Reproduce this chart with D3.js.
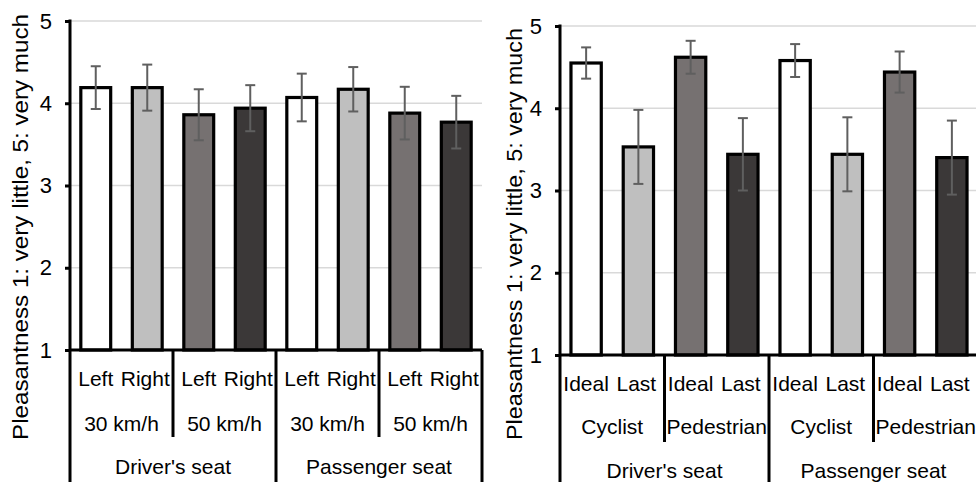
<!DOCTYPE html>
<html>
<head>
<meta charset="utf-8">
<script src="https://cdn.jsdelivr.net/npm/d3@7"></script>
<style>
  body { margin: 0; background: #fff; }
  text { font-family: "Liberation Sans", Arial, sans-serif; fill: #000; }
</style>
</head>
<body>
<div id="chart"></div>
<script>
// data
var leftCats = ["Left", "Right", "Left", "Right", "Left", "Right", "Left", "Right"];
var leftMid = ["30 km/h", "50 km/h", "30 km/h", "50 km/h"];
var leftMeans = [4.19, 4.19, 3.86, 3.94, 4.07, 4.17, 3.88, 3.77];
var leftErr = [0.26, 0.28, 0.31, 0.28, 0.29, 0.27, 0.32, 0.32];

var rightCats = ["Ideal", "Last", "Ideal", "Last", "Ideal", "Last", "Ideal", "Last"];
var rightMid = ["Cyclist", "Pedestrian", "Cyclist", "Pedestrian"];
var rightMeans = [4.55, 3.53, 4.62, 3.44, 4.58, 3.44, 4.44, 3.40];
var rightErr = [0.19, 0.45, 0.20, 0.44, 0.20, 0.45, 0.25, 0.45];

var seats = ["Driver's seat", "Passenger seat"];
var yTicks = [1, 2, 3, 4, 5];
var yLabel = "Pleasantness 1: very little, 5: very much";
var fills = ["#ffffff", "#bfbfbf", "#767171", "#3b3838"];

var W = 976, H = 482;

var svg = d3
  .select("#chart")
  .append("svg")
  .attr("width", W)
  .attr("height", H);

// one panel = one excel chart
function drawPanel(p) {
  var g = svg.append("g");

  var x = d3
    .scaleBand()
    .domain(d3.range(p.cats.length))
    .range([p.x0, p.x1])
    .paddingInner(0.42)
    .paddingOuter(0.21);

  var y = d3.scaleLinear().domain([1, 5]).range([p.yBot, p.yTop]);
  var step = x.step();

  // gridlines
  g.selectAll(".grid")
    .data(yTicks.slice(1))
    .join("line")
    .attr("x1", p.x0)
    .attr("x2", p.x1)
    .attr("y1", (d) => y(d))
    .attr("y2", (d) => y(d))
    .attr("stroke", "#d9d9d9")
    .attr("stroke-width", 1.5);

  // bars
  g.selectAll(".bar")
    .data(p.means)
    .join("rect")
    .attr("x", (d, i) => x(i))
    .attr("y", (d) => y(d))
    .attr("width", x.bandwidth())
    .attr("height", (d) => y(1) - y(d))
    .attr("fill", (d, i) => fills[i % 4])
    .attr("stroke", "#000")
    .attr("stroke-width", 3.2);

  // error bars
  var eb = g.selectAll(".err")
    .data(p.means)
    .join("g")
    .attr("stroke", "#5f5f5f")
    .attr("stroke-width", 2);
  eb.append("line")
    .attr("x1", (d, i) => x(i) + x.bandwidth() / 2)
    .attr("x2", (d, i) => x(i) + x.bandwidth() / 2)
    .attr("y1", (d, i) => y(d + p.err[i]))
    .attr("y2", (d, i) => y(d - p.err[i]));
  [1, -1].forEach(function (s) {
    eb.append("line")
      .attr("x1", (d, i) => x(i) + x.bandwidth() / 2 - 5)
      .attr("x2", (d, i) => x(i) + x.bandwidth() / 2 + 5)
      .attr("y1", (d, i) => y(d + s * p.err[i]))
      .attr("y2", (d, i) => y(d + s * p.err[i]));
  });

  // y axis
  var yAxis = d3
    .axisLeft(y)
    .tickValues(yTicks)
    .tickFormat(d3.format("d"))
    .tickSize(5)
    .tickSizeOuter(0)
    .tickPadding(13);
  var ya = g.append("g").attr("transform", `translate(${p.x0},0)`).call(yAxis);
  ya.select(".domain").remove();
  ya.selectAll(".tick line").attr("stroke", "#000").attr("stroke-width", 3);
  ya.selectAll(".tick text")
    .attr("font-size", 22)
    .attr("fill", "#000");

  // axis lines
  var lines = g.append("g").attr("stroke", "#000").attr("stroke-width", 3);
  lines.append("line")
    .attr("x1", p.x0).attr("x2", p.x0)
    .attr("y1", p.yTop - 1.5).attr("y2", H);
  lines.append("line")
    .attr("x1", p.x0).attr("x2", p.x1)
    .attr("y1", p.yBot).attr("y2", p.yBot);

  // multi-level category axis
  var bounds = d3.range(1, p.cats.length + 1);
  lines.selectAll(".sep")
    .data(bounds.filter((b) => b % 2 == 0))
    .join("line")
    .attr("x1", (b) => p.x0 + b * step)
    .attr("x2", (b) => p.x0 + b * step)
    .attr("y1", p.yBot)
    .attr("y2", (b) => (b % 4 == 0 ? H : p.yBot + 87));

  var mid = (i) => x(i) + x.bandwidth() / 2;
  g.selectAll(".lab1")
    .data(p.cats)
    .join("text")
    .attr("x", (d, i) => mid(i) + (i % 2 == 0 ? 0 : -2))
    .attr("y", p.yBot + 35.5)
    .attr("text-anchor", "middle")
    .attr("font-size", 21)
    .text((d) => d);

  g.selectAll(".lab2")
    .data(p.mid)
    .join("text")
    .attr("x", (d, i) => p.x0 + (i * 2 + 1) * step)
    .attr("y", p.yBot + p.l2)
    .attr("text-anchor", "middle")
    .attr("font-size", 21)
    .text((d) => d);

  g.selectAll(".lab3")
    .data(seats)
    .join("text")
    .attr("x", (d, i) => p.x0 + (i * 4 + 2) * step)
    .attr("y", p.yBot + p.l3)
    .attr("text-anchor", "middle")
    .attr("font-size", 21)
    .text((d) => d);

  // axis title
  g.append("text")
    .attr("transform", `translate(${p.labX},${p.labY}) rotate(-90)`)
    .attr("text-anchor", "middle")
    .attr("font-size", 22)
    .attr("textLength", p.labLen)
    .attr("lengthAdjust", "spacingAndGlyphs")
    .text(yLabel);
}

drawPanel({
  cats: leftCats, mid: leftMid, means: leftMeans, err: leftErr,
  x0: 70, x1: 482, yTop: 21, yBot: 350, l2: 80.5, l3: 124,
  labX: 28, labY: 227, labLen: 426
});

drawPanel({
  cats: rightCats, mid: rightMid, means: rightMeans, err: rightErr,
  x0: 560, x1: 978, yTop: 26, yBot: 355, l2: 79, l3: 122.5,
  labX: 522, labY: 234, labLen: 412
});
</script>
</body>
</html>
